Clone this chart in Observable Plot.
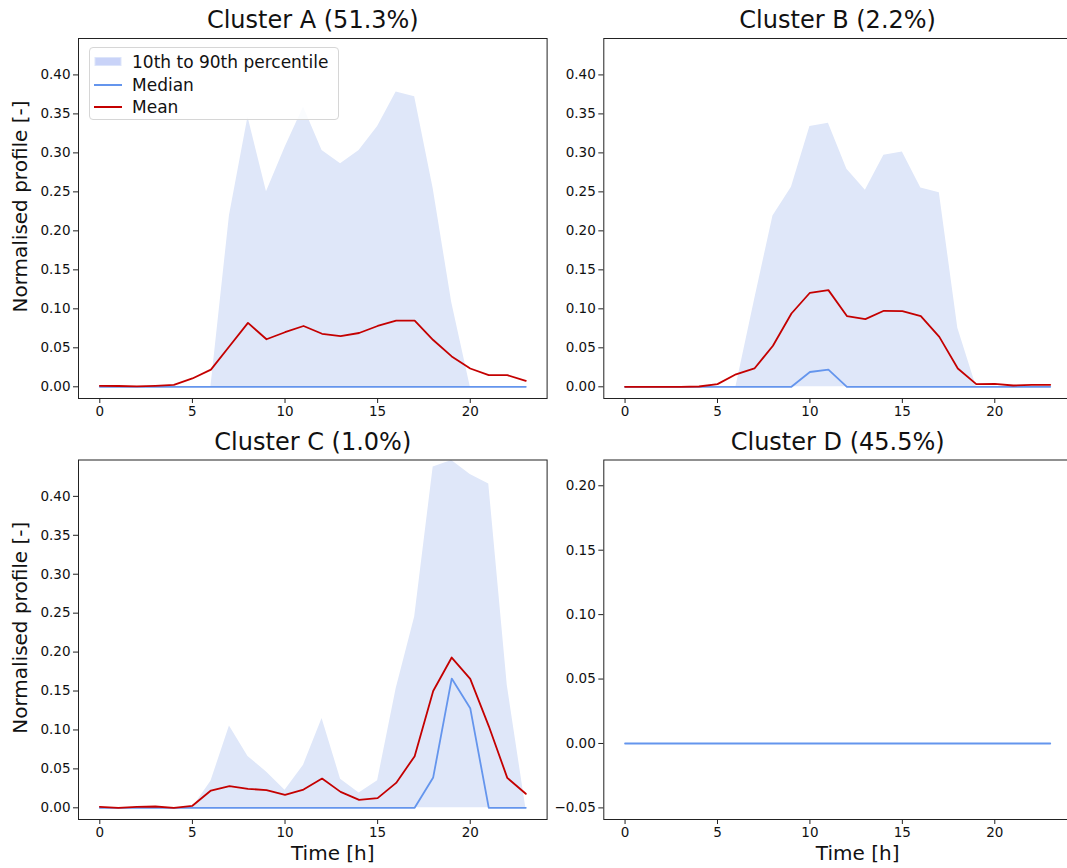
<!DOCTYPE html>
<html>
<head>
<meta charset="utf-8">
<script src="https://cdn.jsdelivr.net/npm/d3@7"></script>
<script src="https://cdn.jsdelivr.net/npm/@observablehq/plot@0.6"></script>
<style>
  html, body { margin: 0; padding: 0; background: #fff; overflow: hidden; }
  #root { position: relative; width: 1067px; height: 868px; overflow: hidden; font-family: "DejaVu Sans", sans-serif; }
  #root svg { position: absolute; }
  .legend { position: absolute; box-sizing: border-box; border: 1px solid #d6d6d6; border-radius: 4px; background: rgba(255,255,255,0.85); font-family: "DejaVu Sans", sans-serif; font-size: 17px; color: #111; }
  .legend .item { position: absolute; left: 0; height: 20px; line-height: 20px; white-space: nowrap; }
  .legend .lab { position: absolute; left: 42px; top: 0; }
</style>
</head>
<body>
<div id="root"></div>
<script>
// ---------- data ----------
const hours = [0,1,2,3,4,5,6,7,8,9,10,11,12,13,14,15,16,17,18,19,20,21,22,23];
const xTicks = [0,5,10,15,20];
const yTicksABC = [0,0.05,0.10,0.15,0.20,0.25,0.30,0.35,0.40];
const yTicksD = [-0.05,0,0.05,0.10,0.15,0.20];

const titles = ["Cluster A (51.3%)","Cluster B (2.2%)","Cluster C (1.0%)","Cluster D (45.5%)"];
const legendLabels = ["10th to 90th percentile","Median","Mean"];
const yLabel = "Normalised profile [-]";
const xLabel = "Time [h]";

// Cluster A
const lowerA  = [0,0,0,0,0,0,0,0,0,0,0,0,0,0,0,0,0,0,0,0,0,0,0,0];
const upperA  = [0,0,0,0,0,0,0,0.2195,0.346,0.250,0.307,0.359,0.303,0.286,0.303,0.334,0.378,0.372,0.254,0.108,0,0,0,0];
const medianA = [0,0,0,0,0,0,0,0,0,0,0,0,0,0,0,0,0,0,0,0,0,0,0,0];
const meanA   = [0.0013,0.001,0.0005,0.0013,0.0026,0.0107,0.022,0.052,0.082,0.061,0.070,0.078,0.068,0.065,0.069,0.078,0.085,0.085,0.060,0.039,0.0235,0.015,0.015,0.0077];

// Cluster B
const lowerB  = [0,0,0,0,0,0,0,0,0,0,0,0,0,0,0,0,0,0,0,0,0,0,0,0];
const upperB  = [0,0,0,0,0,0,0,0.111,0.219,0.256,0.334,0.338,0.279,0.252,0.297,0.301,0.255,0.249,0.075,0,0,0,0,0];
const medianB = [0,0,0,0,0,0,0,0,0,0,0.019,0.022,0,0,0,0,0,0,0,0,0,0,0,0];
const meanB   = [0,0,0,0,0.0004,0.0034,0.016,0.0235,0.0526,0.094,0.1206,0.124,0.0907,0.0868,0.0975,0.0971,0.0907,0.064,0.0235,0.0034,0.0038,0.0017,0.0026,0.0026];

// Cluster C
const lowerC  = [0,0,0,0,0,0,0,0,0,0,0,0,0,0,0,0,0,0,0,0,0,0,0,0];
const upperC  = [0,0,0,0,0,0,0.034,0.105,0.066,0.046,0.0227,0.0548,0.1147,0.0368,0.019,0.0347,0.153,0.245,0.4376,0.446,0.428,0.416,0.157,0];
const medianC = [0,0,0,0,0,0,0,0,0,0,0,0,0,0,0,0,0,0,0.039,0.166,0.128,0,0,0];
const meanC   = [0.0013,0,0.0013,0.0017,0,0.0026,0.0222,0.0278,0.0244,0.0227,0.0167,0.0235,0.0376,0.0205,0.0103,0.0124,0.032,0.0663,0.150,0.193,0.1656,0.105,0.0385,0.018];

// Cluster D
const medianD = [0,0,0,0,0,0,0,0,0,0,0,0,0,0,0,0,0,0,0,0,0,0,0,0];

// ---------- style ----------
const FILL = "#dfe7f9";
const MEDIAN = "#6495ed";
const MEAN = "#c40000";
const FONT = "DejaVu Sans";

const root = document.getElementById("root");

function panel(o) {
  const data = hours.map((h, i) => ({
    h,
    lo: o.lower ? o.lower[i] : null,
    hi: o.upper ? o.upper[i] : null,
    med: o.median[i],
    mean: o.mean ? o.mean[i] : null
  }));
  const marks = [];
  if (o.upper) marks.push(Plot.areaY(data, {x: "h", y1: "lo", y2: "hi", fill: FILL, clip: true}));
  marks.push(Plot.lineY(data, {x: "h", y: "med", stroke: MEDIAN, strokeWidth: 1.8}));
  if (o.mean) marks.push(Plot.lineY(data, {x: "h", y: "mean", stroke: MEAN, strokeWidth: 1.8}));
  marks.push(Plot.frame({stroke: "#222", strokeWidth: 1}));
  marks.push(Plot.axisX({ticks: xTicks, tickSize: 5, tickPadding: 3, tickFormat: d => String(d), label: null, stroke: "#222"}));
  marks.push(Plot.axisY({ticks: o.yTicks, tickSize: 5, tickPadding: 3, tickFormat: d3.format(".2f"), label: null, stroke: "#222"}));
  marks.push(Plot.text([o.title], {frameAnchor: "top", dy: -10.5, lineAnchor: "bottom", textAnchor: "middle", fontSize: 24, fill: "#111"}));
  if (o.yLab) marks.push(Plot.text([yLabel], {frameAnchor: "left", dx: -57.5, dy: -12, rotate: -90, textAnchor: "middle", lineAnchor: "middle", fontSize: 20, fill: "#111"}));
  if (o.xLab) marks.push(Plot.text([xLabel], {frameAnchor: "bottom", dy: 40.5, dx: 20, lineAnchor: "bottom", textAnchor: "middle", fontSize: 20, fill: "#111"}));

  const svg = Plot.plot({
    width: o.width, height: o.height,
    marginLeft: o.ml, marginRight: o.mr, marginTop: o.mt, marginBottom: o.mb,
    x: {domain: [-1.15, 24.15]},
    y: {domain: o.yDomain},
    style: {fontFamily: FONT, fontSize: "13.5px", background: "transparent", color: "#111", overflow: "visible"},
    marks
  });
  svg.style.left = o.left + "px";
  svg.style.top = o.top + "px";
  root.appendChild(svg);
}

const yDomABC = [-0.015, 0.4467];
const yDomD = [-0.059, 0.220];

panel({title: titles[0], lower: lowerA, upper: upperA, median: medianA, mean: meanA, yTicks: yTicksABC, yDomain: yDomABC,
  left: 0, top: 0, width: 560, height: 440, ml: 78, mr: 13.4, mt: 38, mb: 42, yLab: true});
panel({title: titles[1], lower: lowerB, upper: upperB, median: medianB, mean: meanB, yTicks: yTicksABC, yDomain: yDomABC,
  left: 560, top: 0, width: 520, height: 440, ml: 43.3, mr: 9, mt: 38, mb: 42});
panel({title: titles[2], lower: lowerC, upper: upperC, median: medianC, mean: meanC, yTicks: yTicksABC, yDomain: yDomABC,
  left: 0, top: 400, width: 560, height: 468, ml: 78, mr: 13.4, mt: 59.5, mb: 49, yLab: true, xLab: true});
panel({title: titles[3], median: medianD, yTicks: yTicksD, yDomain: yDomD,
  left: 560, top: 400, width: 520, height: 468, ml: 43.3, mr: 9, mt: 59.5, mb: 49, xLab: true});

// legend (in panel A)
const lg = document.createElement("div");
lg.className = "legend";
lg.style.left = "89px"; lg.style.top = "47px"; lg.style.width = "250px"; lg.style.height = "73px";
const rowsTop = [4, 27, 49];
const sw = [
  '<svg width="28" height="20" style="position:absolute;left:4px;top:0"><rect x="1" y="5.5" width="26" height="8" fill="#c9d3f8" stroke="#dde5fa" stroke-width="1"/></svg>',
  '<svg width="28" height="20" style="position:absolute;left:4px;top:0"><line x1="0" x2="28" y1="10" y2="10" stroke="' + MEDIAN + '" stroke-width="2"/></svg>',
  '<svg width="28" height="20" style="position:absolute;left:4px;top:0"><line x1="0" x2="28" y1="10" y2="10" stroke="' + MEAN + '" stroke-width="2"/></svg>'
];
legendLabels.forEach((t, i) => {
  const it = document.createElement("div");
  it.className = "item";
  it.style.top = rowsTop[i] + "px";
  it.style.width = "100%";
  it.innerHTML = sw[i] + '<span class="lab">' + t + '</span>';
  lg.appendChild(it);
});
root.appendChild(lg);
</script>
</body>
</html>
